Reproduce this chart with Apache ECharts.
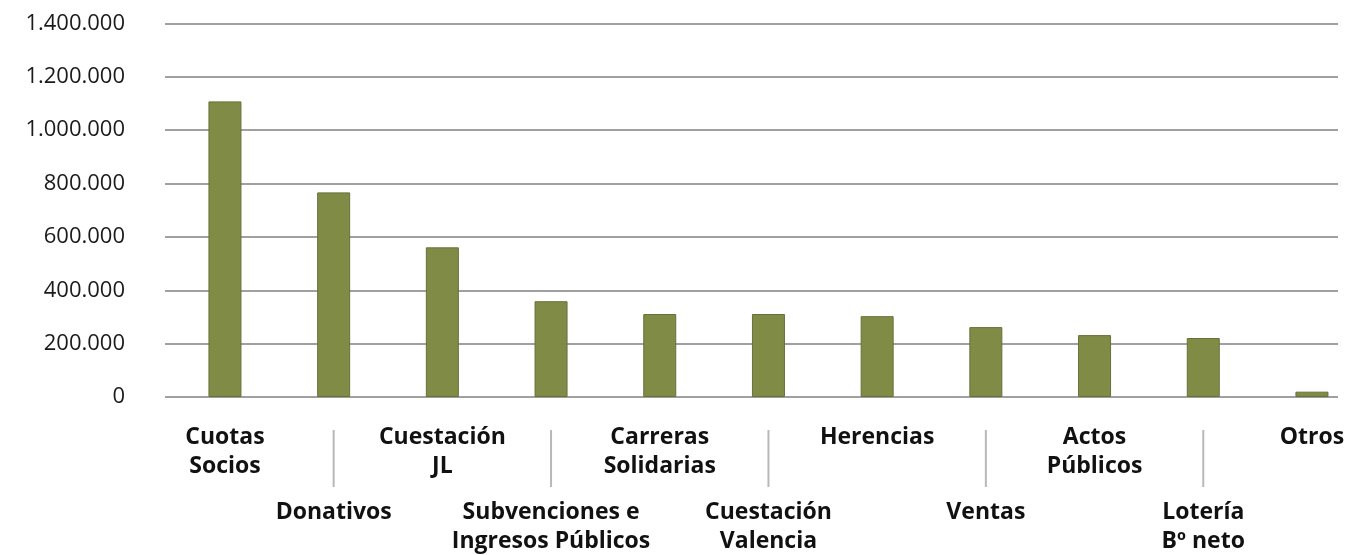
<!DOCTYPE html>
<html>
<head>
<meta charset="utf-8">
<script src="https://cdn.jsdelivr.net/npm/echarts@6/dist/echarts.min.js"></script>
<style>
html,body{margin:0;padding:0;background:#fff;}
#chart{width:1347px;height:555px;}
</style>
</head>
<body>
<div id="chart"></div>
<script>
// ---- data ----
const categories = [
  'Cuotas\nSocios', 'Donativos', 'Cuestación\nJL', 'Subvenciones e\nIngresos Públicos',
  'Carreras\nSolidarias', 'Cuestación\nValencia', 'Herencias', 'Ventas',
  'Actos\nPúblicos', 'Lotería\nBº neto', 'Otros'
];
const values = [1108000, 767000, 561000, 359000, 311000, 311000, 303000, 262000, 232000, 221000, 20000];
const yTicks = [0, 200000, 400000, 600000, 800000, 1000000, 1200000, 1400000];

function fmt(v) {
  return String(v).replace(/\B(?=(\d{3})+(?!\d))/g, '.');
}

const chart = echarts.init(document.getElementById('chart'), null, {renderer: 'canvas'});
const yMin = yTicks[0], yMax = yTicks[yTicks.length - 1], yStep = yTicks[1] - yTicks[0];

const option = {
  animation: false,
  backgroundColor: '#fff',
  grid: [
    {left: 165, right: 9, top: 23.5, bottom: 158, outerBoundsMode: 'none'},
    {left: 170.6, width: 1195.7, top: 23.5, bottom: 158, outerBoundsMode: 'none'}
  ],
  xAxis: [
    {type: 'category', gridIndex: 0, data: categories, show: false},
    {
      type: 'category', gridIndex: 1, data: categories,
      axisLine: {show: false}, axisTick: {show: false},
      axisLabel: {
        interval: 0, margin: 26, hideOverlap: false,
        formatter: function (val, idx) {
          const lines = val.split('\n').map(s => '{b|' + s + '}').join('\n');
          if (idx % 2 === 1) {
            return '{g1| }\n{sep| }\n{g2| }\n' + lines;
          }
          return lines;
        },
        rich: {
          b: {fontFamily: 'Open Sans', fontWeight: 700, fontSize: 23, lineHeight: 29, color: '#111'},
          g1: {fontSize: 1, lineHeight: 7},
          sep: {fontSize: 1, width: 2, height: 57, lineHeight: 57, backgroundColor: '#b8b8b8'},
          g2: {fontSize: 1, lineHeight: 11}
        }
      }
    }
  ],
  yAxis: [
    {
      type: 'value', gridIndex: 0, min: yMin, max: yMax, interval: yStep,
      axisLine: {show: false}, axisTick: {show: false},
      splitLine: {lineStyle: {color: '#a0a0a0', width: 2}},
      axisLabel: {
        margin: 40, formatter: fmt,
        fontFamily: 'Open Sans', fontSize: 22, color: '#1a1a1a'
      }
    },
    {
      type: 'value', gridIndex: 1, min: yMin, max: yMax, interval: yStep,
      show: false, splitLine: {show: false}
    }
  ],
  series: [{
    type: 'bar',
    xAxisIndex: 1, yAxisIndex: 1,
    data: values,
    barWidth: 33,
    itemStyle: {color: '#808c45', borderColor: '#66703a', borderWidth: 1}
  }]
};
chart.setOption(option);
</script>
</body>
</html>
